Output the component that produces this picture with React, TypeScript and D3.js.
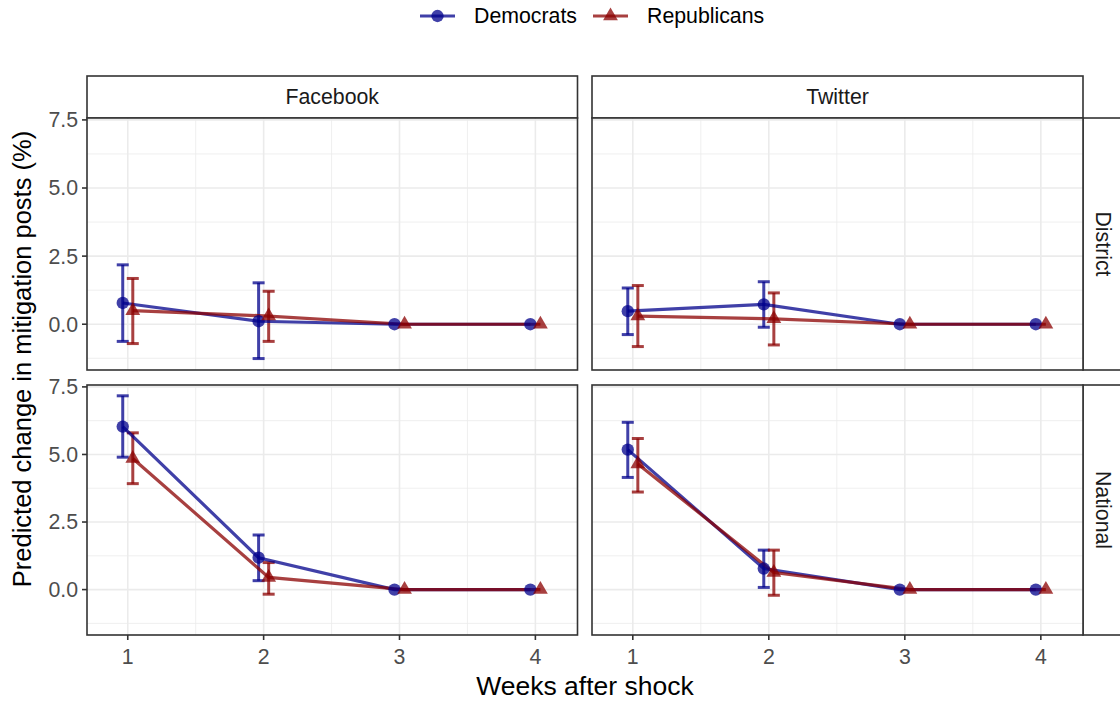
import React from "react";
import * as d3 from "d3";

// ---------- data ----------
const weeks = [1, 2, 3, 4];
const platforms = ["Facebook", "Twitter"];
const levels = ["District", "National"];
const yTicks = [0.0, 2.5, 5.0, 7.5];
const yMinor = [-1.25, 1.25, 3.75, 6.25];
const xMinor = [1.5, 2.5, 3.5];
const seriesNames = ["Democrats", "Republicans"];

// Facebook / District
const demFbDistEst = [0.78, 0.11, 0, 0];
const demFbDistLo = [-0.63, -1.26, 0, 0];
const demFbDistHi = [2.18, 1.52, 0, 0];
const repFbDistEst = [0.5, 0.3, 0, 0];
const repFbDistLo = [-0.71, -0.63, 0, 0];
const repFbDistHi = [1.68, 1.21, 0, 0];
// Twitter / District
const demTwDistEst = [0.48, 0.73, 0, 0];
const demTwDistLo = [-0.38, -0.11, 0, 0];
const demTwDistHi = [1.33, 1.56, 0, 0];
const repTwDistEst = [0.3, 0.2, 0, 0];
const repTwDistLo = [-0.82, -0.76, 0, 0];
const repTwDistHi = [1.42, 1.15, 0, 0];
// Facebook / National
const demFbNatEst = [6.03, 1.18, 0, 0];
const demFbNatLo = [4.9, 0.33, 0, 0];
const demFbNatHi = [7.17, 2.02, 0, 0];
const repFbNatEst = [4.85, 0.45, 0, 0];
const repFbNatLo = [3.92, -0.17, 0, 0];
const repFbNatHi = [5.8, 1.0, 0, 0];
// Twitter / National
const demTwNatEst = [5.18, 0.78, 0, 0];
const demTwNatLo = [4.15, 0.08, 0, 0];
const demTwNatHi = [6.19, 1.46, 0, 0];
const repTwNatEst = [4.65, 0.63, 0, 0];
const repTwNatLo = [3.61, -0.21, 0, 0];
const repTwNatHi = [5.59, 1.46, 0, 0];

const panelData = [
  [
    [
      { est: demFbDistEst, lo: demFbDistLo, hi: demFbDistHi },
      { est: repFbDistEst, lo: repFbDistLo, hi: repFbDistHi },
    ],
    [
      { est: demTwDistEst, lo: demTwDistLo, hi: demTwDistHi },
      { est: repTwDistEst, lo: repTwDistLo, hi: repTwDistHi },
    ],
  ],
  [
    [
      { est: demFbNatEst, lo: demFbNatLo, hi: demFbNatHi },
      { est: repFbNatEst, lo: repFbNatLo, hi: repFbNatHi },
    ],
    [
      { est: demTwNatEst, lo: demTwNatLo, hi: demTwNatHi },
      { est: repTwNatEst, lo: repTwNatLo, hi: repTwNatHi },
    ],
  ],
];

// ---------- layout ----------
const W = 1120;
const H = 703;
const colX = [
  [87, 577.5],
  [592, 1083],
];
const rowY = [
  [118, 370],
  [385, 635],
];
const stripTop = 76;
const stripRightW = 43;
const colors = ["#00008B", "#8B0000"];
const alpha = 0.75;
const dodge = [-0.037, 0.037];
const FONT = "'Liberation Sans', Arial, Helvetica, sans-serif";
const border = "#333333";
const smallFont = 21.3;
const titleFont = 26.5;
const yTitleFont = 25.5;

const circleSym = d3.symbol().type(d3.symbolCircle).size(120)();
const triSym = d3.symbol().type(d3.symbolTriangle).size(95)();

function Panel({ r, c }: { r: number; c: number }) {
  const [x0, x1] = colX[c];
  const [y0, y1] = rowY[r];
  const x = d3.scaleLinear().domain([0.7, 4.31]).range([x0, x1]);
  const y = d3.scaleLinear().domain([-1.68, 7.57]).range([y1, y0]);
  const series = panelData[r][c];
  return (
    <g>
      <rect x={x0} y={y0} width={x1 - x0} height={y1 - y0} fill="#fff" />
      {yMinor.map((v) => (
        <line key={"ym" + v} x1={x0} x2={x1} y1={y(v)} y2={y(v)} stroke="#ebebeb" strokeWidth={0.8} />
      ))}
      {xMinor.map((v) => (
        <line key={"xm" + v} y1={y0} y2={y1} x1={x(v)} x2={x(v)} stroke="#ebebeb" strokeWidth={0.8} />
      ))}
      {yTicks.map((v) => (
        <line key={"yM" + v} x1={x0} x2={x1} y1={y(v)} y2={y(v)} stroke="#ebebeb" strokeWidth={1.6} />
      ))}
      {weeks.map((v) => (
        <line key={"xM" + v} y1={y0} y2={y1} x1={x(v)} x2={x(v)} stroke="#ebebeb" strokeWidth={1.6} />
      ))}
      {series.map((s, si) => (
        <g key={"s" + si}>
          {s.est.map((_, i) => {
            if (s.lo[i] === s.hi[i]) return null;
            const cx = x(weeks[i] + dodge[si]);
            return (
              <g key={"e" + i} stroke={colors[si]} strokeOpacity={alpha} strokeWidth={3}>
                <line x1={cx} x2={cx} y1={y(s.lo[i])} y2={y(s.hi[i])} />
                <line x1={cx - 6} x2={cx + 6} y1={y(s.lo[i])} y2={y(s.lo[i])} />
                <line x1={cx - 6} x2={cx + 6} y1={y(s.hi[i])} y2={y(s.hi[i])} />
              </g>
            );
          })}
        </g>
      ))}
      {series.map((s, si) => {
        const line = d3
          .line<number>()
          .x((_, i) => x(weeks[i] + dodge[si]))
          .y((d) => y(d));
        return (
          <path
            key={"l" + si}
            d={line(s.est) || ""}
            fill="none"
            stroke={colors[si]}
            strokeOpacity={alpha}
            strokeWidth={3.2}
          />
        );
      })}
      {series.map((s, si) =>
        s.est.map((v, i) => (
          <path
            key={"p" + si + "-" + i}
            d={si === 0 ? circleSym : triSym}
            transform={`translate(${x(weeks[i] + dodge[si])},${y(v)})`}
            fill={colors[si]}
            fillOpacity={alpha}
          />
        ))
      )}
      <rect x={x0} y={y0} width={x1 - x0} height={y1 - y0} fill="none" stroke={border} strokeWidth={1.6} />
      {c === 0 &&
        yTicks.map((v) => (
          <g key={"yt" + v}>
            <line x1={x0 - 5} x2={x0} y1={y(v)} y2={y(v)} stroke={border} strokeWidth={1.6} />
            <text
              x={x0 - 9}
              y={y(v)}
              dy="0.35em"
              textAnchor="end"
              fontSize={smallFont}
              fill="#4d4d4d"
              fontFamily={FONT}
            >
              {v.toFixed(1)}
            </text>
          </g>
        ))}
      {r === 1 &&
        weeks.map((v) => (
          <g key={"xt" + v}>
            <line x1={x(v)} x2={x(v)} y1={y1} y2={y1 + 5} stroke={border} strokeWidth={1.6} />
            <text x={x(v)} y={y1 + 29} textAnchor="middle" fontSize={smallFont} fill="#4d4d4d" fontFamily={FONT}>
              {v}
            </text>
          </g>
        ))}
    </g>
  );
}

export default function App() {
  return (
    <div style={{ position: "absolute", left: 0, top: 0 }}>
      <svg width={W} height={H} style={{ display: "block", background: "#fff" }}>
        <rect width={W} height={H} fill="#fff" />
        {/* legend */}
        {seriesNames.map((name, i) => {
          const kx = i === 0 ? 420 : 593;
          const tx = i === 0 ? 474 : 647;
          return (
            <g key={name}>
              <line x1={kx} x2={kx + 35} y1={16} y2={16} stroke={colors[i]} strokeOpacity={alpha} strokeWidth={3.2} />
              <path
                d={i === 0 ? circleSym : triSym}
                transform={`translate(${kx + 17.5},16)`}
                fill={colors[i]}
                fillOpacity={alpha}
              />
              <text x={tx} y={16} dy="0.35em" fontSize={smallFont} fill="#000" fontFamily={FONT}>
                {name}
              </text>
            </g>
          );
        })}
        {/* top strips */}
        {platforms.map((p, c) => (
          <g key={p}>
            <rect
              x={colX[c][0]}
              y={stripTop}
              width={colX[c][1] - colX[c][0]}
              height={rowY[0][0] - stripTop}
              fill="#fff"
              stroke={border}
              strokeWidth={1.6}
            />
            <text
              x={(colX[c][0] + colX[c][1]) / 2}
              y={(stripTop + rowY[0][0]) / 2}
              dy="0.35em"
              textAnchor="middle"
              fontSize={smallFont}
              fill="#1a1a1a"
              fontFamily={FONT}
            >
              {p}
            </text>
          </g>
        ))}
        {/* right strips */}
        {levels.map((l, r) => {
          const cx = colX[1][1] + stripRightW / 2 - 1;
          const cy = (rowY[r][0] + rowY[r][1]) / 2;
          return (
            <g key={l}>
              <rect
                x={colX[1][1]}
                y={rowY[r][0]}
                width={stripRightW}
                height={rowY[r][1] - rowY[r][0]}
                fill="#fff"
                stroke={border}
                strokeWidth={1.6}
              />
              <text
                transform={`translate(${cx},${cy}) rotate(90)`}
                dy="0.35em"
                textAnchor="middle"
                fontSize={smallFont}
                fill="#1a1a1a"
                fontFamily={FONT}
              >
                {l}
              </text>
            </g>
          );
        })}
        {[0, 1].map((r) => [0, 1].map((c) => <Panel key={r + "-" + c} r={r} c={c} />))}
        {/* axis titles */}
        <text
          x={(colX[0][0] + colX[1][1]) / 2}
          y={686}
          dy="0.35em"
          textAnchor="middle"
          fontSize={titleFont}
          fill="#000"
          fontFamily={FONT}
        >
          Weeks after shock
        </text>
        <text
          transform={`translate(22,359) rotate(-90)`}
          dy="0.35em"
          textAnchor="middle"
          fontSize={yTitleFont}
          fill="#000"
          fontFamily={FONT}
        >
          Predicted change in mitigation posts (%)
        </text>
      </svg>
    </div>
  );
}
